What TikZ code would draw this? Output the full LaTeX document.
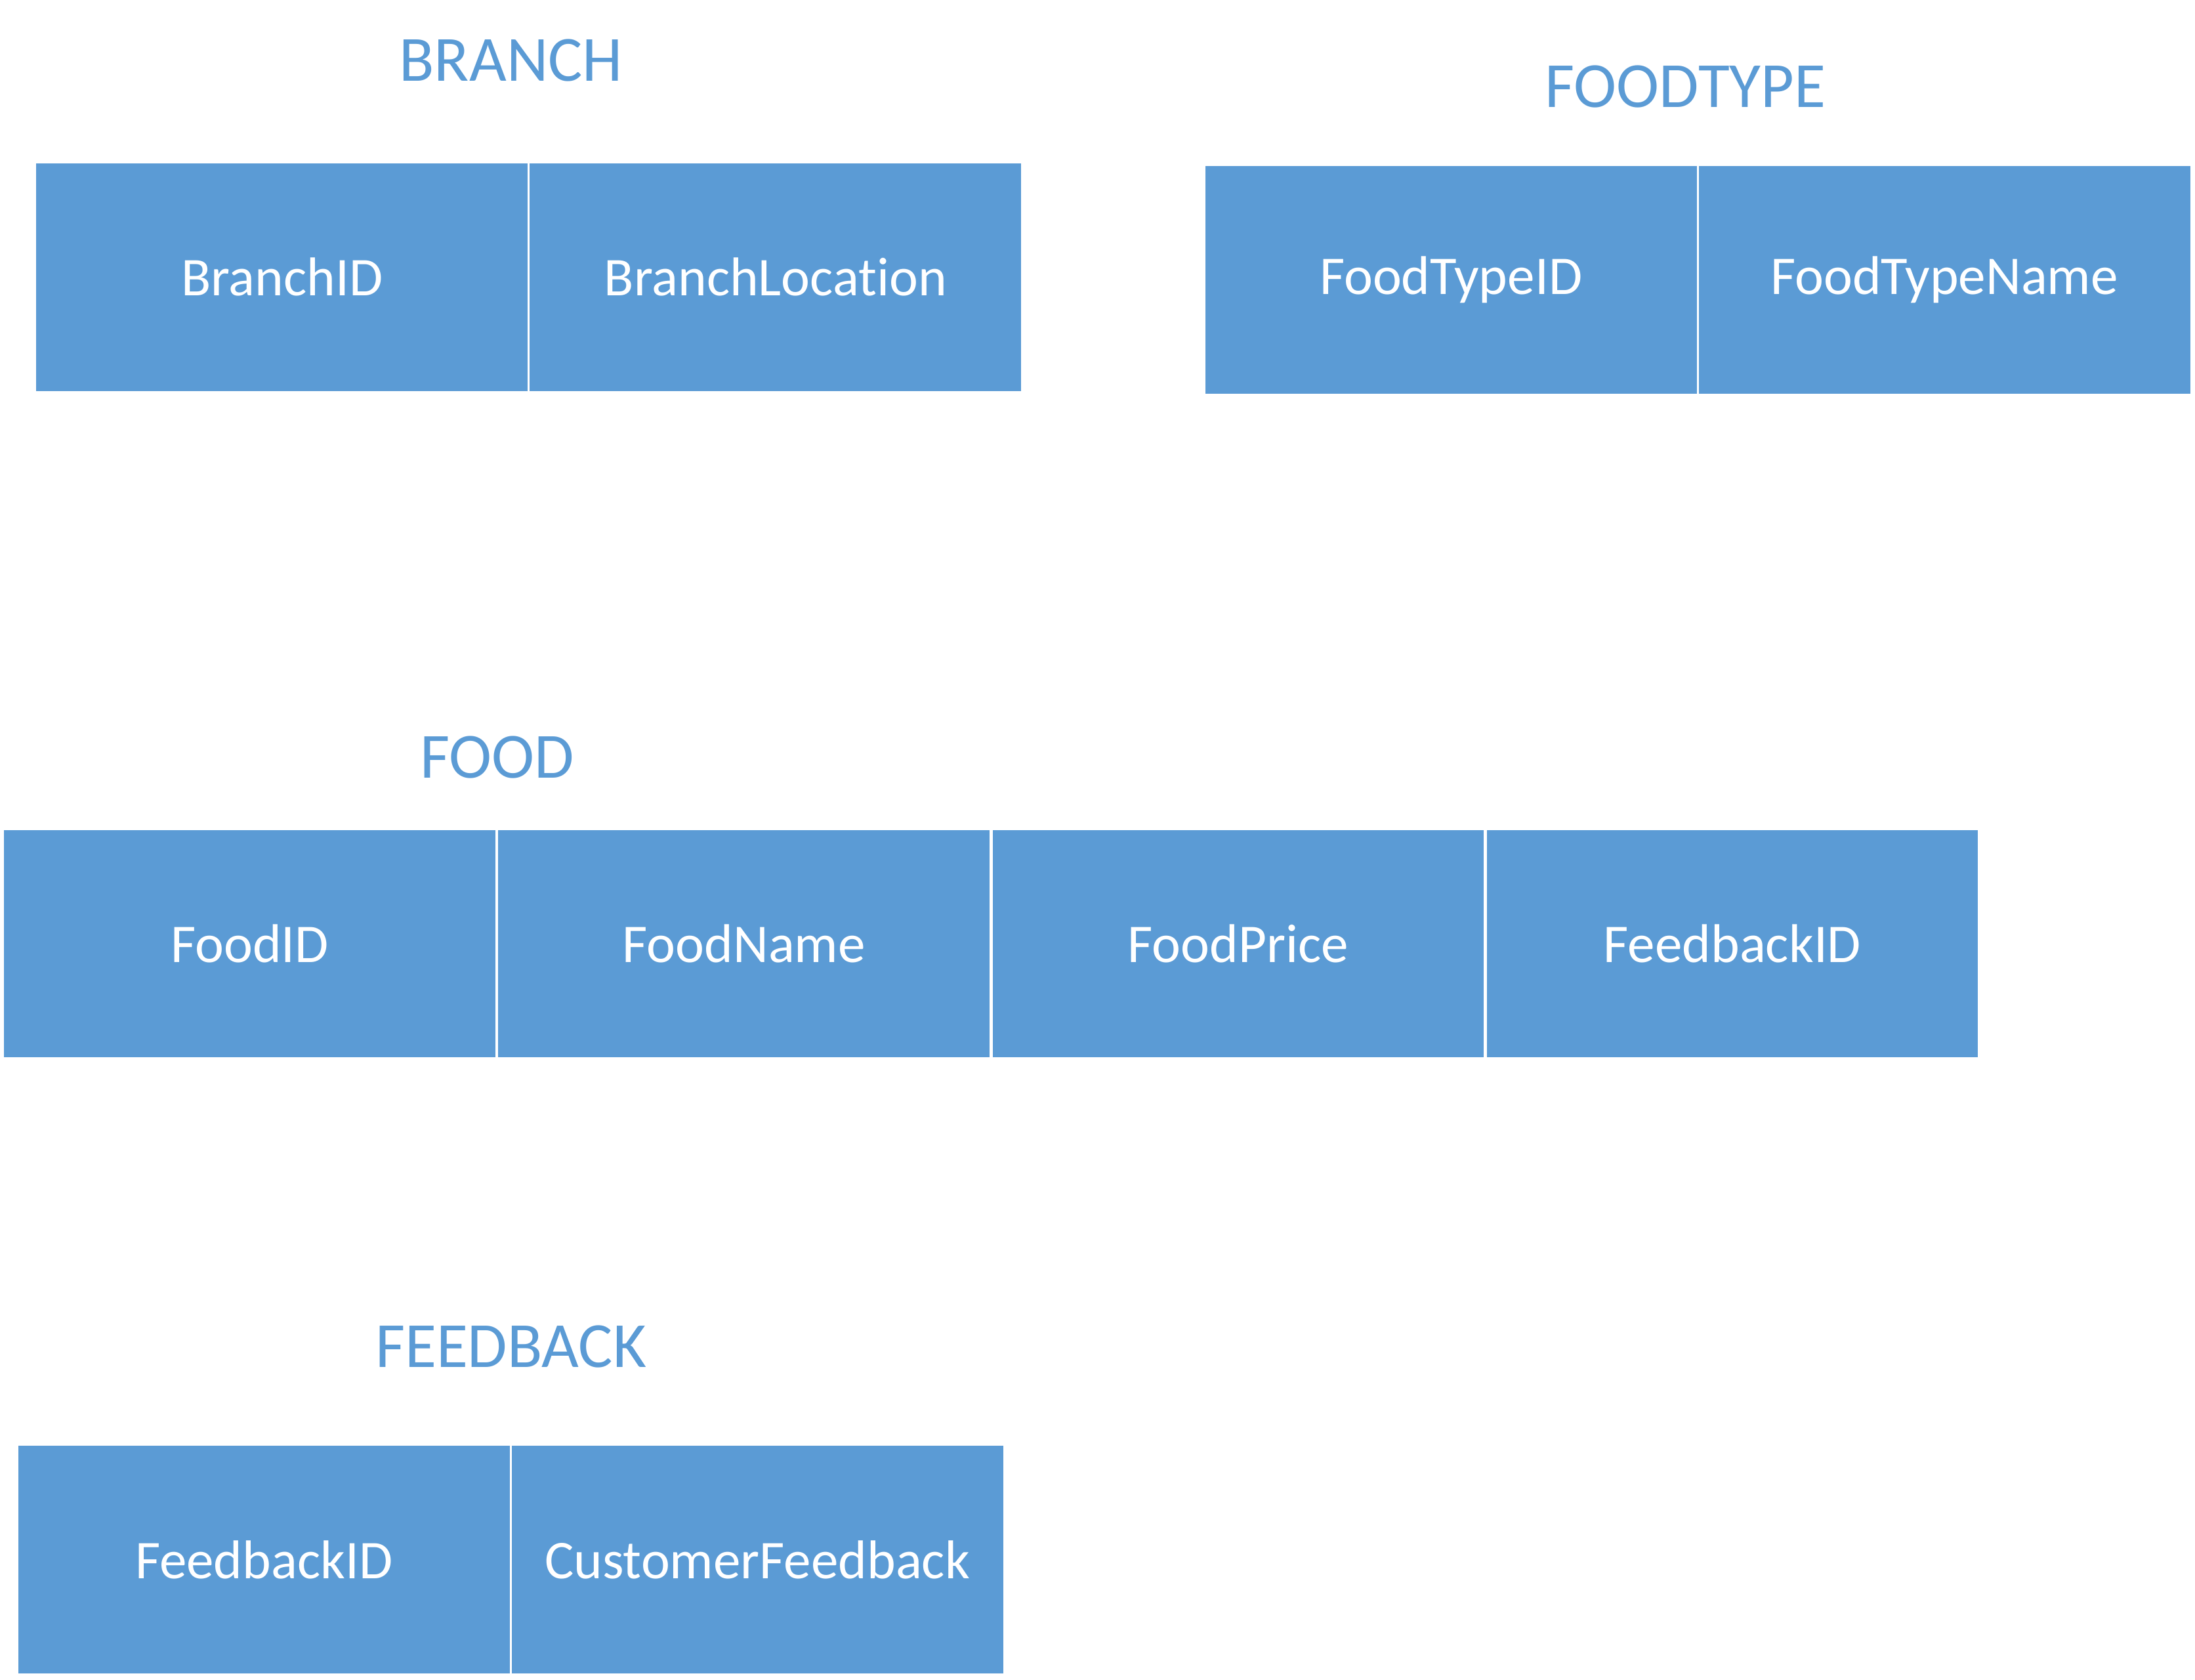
\documentclass[tikz,border=0pt]{standalone}
\usepackage{fontspec}
\setmainfont{Carlito}[Ligatures=CommonOff]
\definecolor{cellblue}{HTML}{5B9BD5}
\begin{document}
\begin{tikzpicture}[x=1pt,y=-1pt,
  cell/.style={fill=cellblue,draw=white,line width=1.5pt,inner sep=0pt,
    minimum width=352.5pt,minimum height=164pt,text=white,
    font=\fontsize{39}{47}\selectfont},
  title/.style={text=cellblue,inner sep=0pt,font=\fontsize{46}{55}\selectfont}]
\useasboundingbox (0,0) rectangle (1568,1200);
% BRANCH
\node[title] (tb) at (365,43) {BRANCH};
\node[cell] (b1) at (201.5,198) {BranchID};
\node[cell] (b2) at (554,198) {BranchLocation};
% FOODTYPE
\node[title] (tft) at (1204,62) {FOODTYPE};
\node[cell] (ft1) at (1036.5,200) {FoodTypeID};
\node[cell] (ft2) at (1389,200) {FoodTypeName};
% FOOD
\node[title] (tf) at (355,541) {FOOD};
\node[cell] (f1) at (178.5,674) {FoodID};
\node[cell] (f2) at (531.5,674) {FoodName};
\node[cell] (f3) at (884.5,674) {FoodPrice};
\node[cell] (f4) at (1237.5,674) {FeedbackID};
% FEEDBACK
\node[title] (tfb) at (365,962) {FEEDBACK};
\node[cell] (fb1) at (188.5,1114) {FeedbackID};
\node[cell] (fb2) at (541,1114) {CustomerFeedback};
\end{tikzpicture}
\end{document}
